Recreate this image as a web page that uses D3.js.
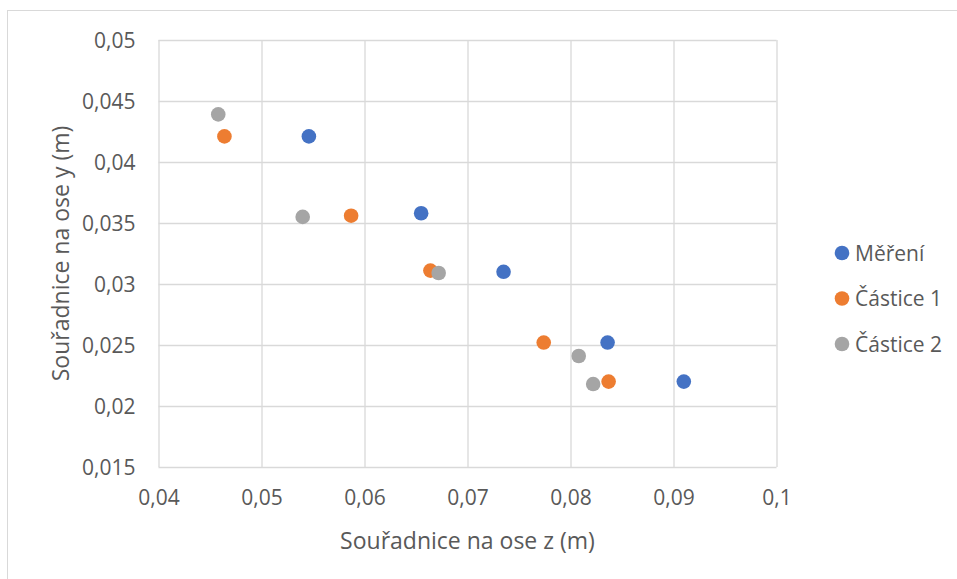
<!DOCTYPE html>
<html>
<head>
<meta charset="utf-8">
<script src="https://cdn.jsdelivr.net/npm/d3@7/dist/d3.min.js"></script>
<style>
  html, body { margin: 0; padding: 0; background: #fff; }
  svg { display: block; font-family: "Open Sans", "Noto Sans", sans-serif; }
</style>
</head>
<body>
<svg id="chart" width="957" height="579"></svg>
<script>
// Measured positions (z, y) in metres
const seriesNames = ["Měření", "Částice 1", "Částice 2"];
const seriesColors = ["#4472C4", "#ED7D31", "#A5A5A5"];

const mereniZ = [0.0546, 0.0655, 0.0735, 0.0836, 0.0910];
const mereniY = [0.0421, 0.0358, 0.0310, 0.0252, 0.0220];

const castice1Z = [0.0464, 0.0587, 0.0664, 0.0774, 0.0837];
const castice1Y = [0.0421, 0.0356, 0.0311, 0.0252, 0.0220];

const castice2Z = [0.0458, 0.0540, 0.0672, 0.0808, 0.0822];
const castice2Y = [0.0439, 0.0355, 0.0309, 0.0241, 0.0218];

const xTicks = [0.04, 0.05, 0.06, 0.07, 0.08, 0.09, 0.1];
const yTicks = [0.015, 0.02, 0.025, 0.03, 0.035, 0.04, 0.045, 0.05];

const xTitle = "Souřadnice na ose z (m)";
const yTitle = "Souřadnice na ose y (m)";

const seriesZ = [mereniZ, castice1Z, castice2Z];
const seriesY = [mereniY, castice1Y, castice2Y];

const svg = d3.select("#chart");
const W = 957, H = 579;
const plot = { left: 158.5, right: 776.5, top: 40, bottom: 467 };

const gridColor = "#d9d9d9";
const textColor = "#595959";

// Chart frame
svg.append("rect")
  .attr("x", 7.5).attr("y", 10.5)
  .attr("width", W + 10).attr("height", H + 10)
  .attr("fill", "#fff").attr("stroke", gridColor).attr("stroke-width", 1);

const x = d3.scaleLinear().domain([0.04, 0.1]).range([plot.left, plot.right]);
const y = d3.scaleLinear().domain([0.015, 0.05]).range([plot.bottom, plot.top]);

const fmt = v => d3.format("")(+v.toFixed(3)).replace(".", ",");

// Gridlines
const xAxis = d3.axisBottom(x).tickValues(xTicks).tickSize(-(plot.bottom - plot.top)).tickFormat(fmt).tickPadding(18);
const yAxis = d3.axisLeft(y).tickValues(yTicks).tickSize(-(plot.right - plot.left)).tickFormat(fmt).tickPadding(23);

const gx = svg.append("g").attr("transform", `translate(0,${plot.bottom})`).call(xAxis);
const gy = svg.append("g").attr("transform", `translate(${plot.left},0)`).call(yAxis);

[gx, gy].forEach(g => {
  g.select(".domain").remove();
  g.selectAll(".tick line").attr("stroke", gridColor).attr("stroke-width", 1.3);
  g.selectAll(".tick text")
    .attr("fill", textColor)
    .style("font-size", "21px")
    .style("font-family", "'Open Sans', sans-serif");
});
gx.selectAll(".tick text").attr("dy", "0.95em");
gy.selectAll(".tick text").attr("dy", "0.36em");

// Points
seriesNames.forEach((name, i) => {
  const pts = seriesZ[i].map((z, j) => ({ z, v: seriesY[i][j] }));
  svg.append("g")
    .selectAll("circle")
    .data(pts)
    .enter().append("circle")
    .attr("cx", d => x(d.z))
    .attr("cy", d => y(d.v))
    .attr("r", 7.3)
    .attr("fill", seriesColors[i]);
});

// Axis titles
svg.append("text")
  .attr("x", (plot.left + plot.right) / 2)
  .attr("y", 549)
  .attr("text-anchor", "middle")
  .attr("fill", textColor)
  .style("font-size", "23px")
  .text(xTitle);

svg.append("text")
  .attr("transform", `translate(69,${(plot.top + plot.bottom) / 2}) rotate(-90)`)
  .attr("text-anchor", "middle")
  .attr("fill", textColor)
  .style("font-size", "23px")
  .text(yTitle);

// Legend
const legend = svg.append("g");
const legendY = d3.scalePoint().domain(seriesNames).range([253, 344]);
seriesNames.forEach((name, i) => {
  const cy = legendY(name);
  legend.append("circle")
    .attr("cx", 842).attr("cy", cy).attr("r", 7.3)
    .attr("fill", seriesColors[i]);
  legend.append("text")
    .attr("x", 855).attr("y", cy)
    .attr("dy", "0.36em")
    .attr("fill", textColor)
    .style("font-size", "21px")
    .text(name);
});
</script>
</body>
</html>
